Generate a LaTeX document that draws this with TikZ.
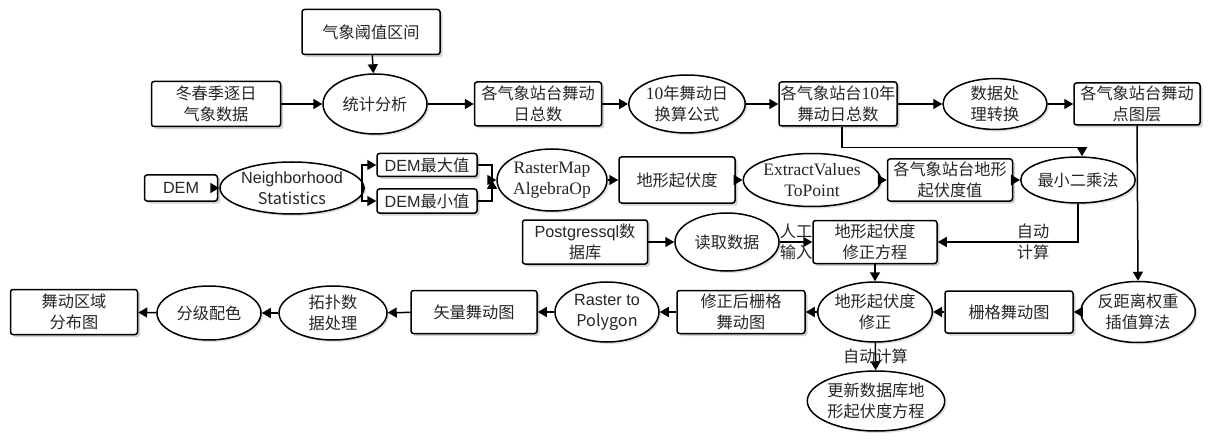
\documentclass[tikz,border=0pt]{standalone}
\usepackage{fontspec}
\setmainfont{Noto Sans CJK SC}
\newfontfamily\tnr{Liberation Serif}
\newfontfamily\ari{Liberation Sans}
\newcommand{\tn}[1]{{\fontsize{17.5}{21}\selectfont\tnr #1}}
\usetikzlibrary{shapes.geometric,arrows.meta,shadows}
\begin{document}
\begin{tikzpicture}[x=1pt,y=-1pt,
  every node/.style={font=\fontsize{16.2}{21}\selectfont, text=black!85},
  box/.style={draw, line width=1.5pt, rounded corners=2.5pt, fill=white, align=center, inner sep=0pt,
    drop shadow={shadow xshift=2.5pt, shadow yshift=-2.5pt, fill=black!18, opacity=1}},
  ell/.style={ellipse, draw, line width=1.5pt, fill=white, align=center, inner sep=0pt,
    drop shadow={shadow xshift=2pt, shadow yshift=-2pt, fill=black!12, opacity=1}},
  arr/.style={line width=1.5pt, -{Triangle[length=9pt,width=10pt]}},
  ln/.style={line width=1.5pt},
  lab/.style={align=center, inner sep=0pt}
]
\useasboundingbox (0,0) rectangle (1208,441);

% row 1
\node[box, minimum width=138pt, minimum height=45pt] (n1) at (371,32) {气象阈值区间};
\node[box, minimum width=129pt, minimum height=45pt] (n2) at (216,104) {冬春季逐日\\气象数据};
\node[ell, minimum width=104pt, minimum height=60pt] (n3) at (375,104) {统计分析};
\node[box, minimum width=127pt, minimum height=44pt] (n4) at (538,104) {各气象站台舞动\\日总数};
\node[ell, minimum width=106pt, minimum height=58pt] (n5) at (687,104) {\tn{10}年舞动日\\换算公式};
\node[box, minimum width=118pt, minimum height=44pt] (n6) at (838,104) {各气象站台\tn{10}年\\舞动日总数};
\node[ell, minimum width=104pt, minimum height=50pt] (n7) at (995,104) {数据处\\理转换};
\node[box, minimum width=126pt, minimum height=42pt] (n8) at (1137,104) {各气象站台舞动\\点图层};

% row 2
\node[box, minimum width=73pt, minimum height=26pt] (d1) at (181,188) {\ari DEM};
\node[ell, minimum width=124pt, minimum height=52pt] (d2) at (292,188) {\ari Neighborhood\\Statistics};
\node[box, minimum width=100pt, minimum height=23pt] (d3) at (427,165) {{\ari DEM}最大值};
\node[box, minimum width=100pt, minimum height=24pt] (d4) at (427,201) {{\ari DEM}最小值};
\node[ell, minimum width=90pt, minimum height=62pt] (d5) at (552,180) {\tn{RasterMap}\\\tn{AlgebraOp}};
\node[box, minimum width=116pt, minimum height=46pt] (d6) at (677,180) {地形起伏度};
\node[ell, minimum width=121pt, minimum height=53pt] (d7) at (812,180) {\tn{ExtractValues}\\\tn{ToPoint}};
\node[box, minimum width=125pt, minimum height=42pt] (d8) at (950,180) {各气象站台地形\\起伏度值};
\node[ell, minimum width=103pt, minimum height=46pt] (d9) at (1078,180) {最小二乘法};

% row 3
\node[box, minimum width=125pt, minimum height=44pt] (p1) at (585,242) {{\ari Postgressql}数\\据库};
\node[ell, minimum width=104pt, minimum height=58pt] (p2) at (727,242) {读取数据};
\node[box, minimum width=124pt, minimum height=43pt] (p3) at (875,242) {地形起伏度\\修正方程};

% row 4
\node[ell, minimum width=104pt, minimum height=61pt] (r1) at (1138,312) {反距离权重\\插值算法};
\node[box, minimum width=128pt, minimum height=42pt] (r2) at (1009,312) {栅格舞动图};
\node[ell, minimum width=104pt, minimum height=60pt] (r3) at (875,312) {地形起伏度\\修正};
\node[box, minimum width=128pt, minimum height=43pt] (r4) at (741,312) {修正后栅格\\舞动图};
\node[ell, minimum width=104pt, minimum height=60pt] (r5) at (607,312) {\ari Raster to\\Polygon};
\node[box, minimum width=126pt, minimum height=43pt] (r6) at (474,312) {矢量舞动图};
\node[ell, minimum width=108pt, minimum height=54pt] (r7) at (333,313) {拓扑数\\据处理};
\node[ell, minimum width=104pt, minimum height=54pt] (r8) at (209,313) {分级配色};
\node[box, minimum width=127pt, minimum height=45pt] (r9) at (74,312) {舞动区域\\分布图};

% row 5
\node[ell, minimum width=121pt, minimum height=60pt] (u1) at (876,401) {更新数据库地\\形起伏度方程};

% connectors row 1
\draw[arr] (n1) -- (n3);
\draw[arr] (n2) -- (n3);
\draw[arr] (n3) -- (n4);
\draw[arr] (n4) -- (n5);
\draw[arr] (n5) -- (n6);
\draw[arr] (n6) -- (n7);
\draw[arr] (n7) -- (n8);
\draw[arr] ([xshift=4pt]n6.south) -- ++(0,21) -| ([xshift=4pt]d9.north);

% row 2
\draw[arr] (d1) -- (d2);
\coordinate (j1) at (362,188);
\draw[ln] (d2.east) -- (j1);
\draw[arr] (j1) |- (d3.west);
\draw[arr] (j1) |- (d4.west);
\coordinate (j2) at (492,180);
\draw[ln] (d3.east) -| (j2);
\draw[arr] (d4.east) -| (j2);
\draw[arr] (j2) -- (d5.west);
\draw[arr] (d5) -- (d6);
\draw[arr] (d6) -- (d7);
\draw[arr] (d7) -- (d8);
\draw[arr] (d8) -- (d9);
\draw[arr] (d9.south) |- node[lab, pos=0.66]{自动\\计算} (p3.east);

% row 3
\draw[arr] (p1) -- (p2);
\draw[arr] (p2) -- node[lab]{人工\\输入} (p3);
\draw[arr] (p3) -- (r3);
\draw[arr] (n8.south) -- (r1.north);

% row 4
\draw[arr] (r1) -- (r2);
\draw[arr] (r2) -- (r3);
\draw[arr] (r3) -- (r4);
\draw[arr] (r4) -- (r5);
\draw[arr] (r5) -- (r6);
\draw[arr] (r6) -- (r7);
\draw[arr] (r7) -- (r8);
\draw[arr] (r8) -- (r9);
\draw[arr] (r3) -- node[lab]{自动计算} (u1);
\end{tikzpicture}
\end{document}
